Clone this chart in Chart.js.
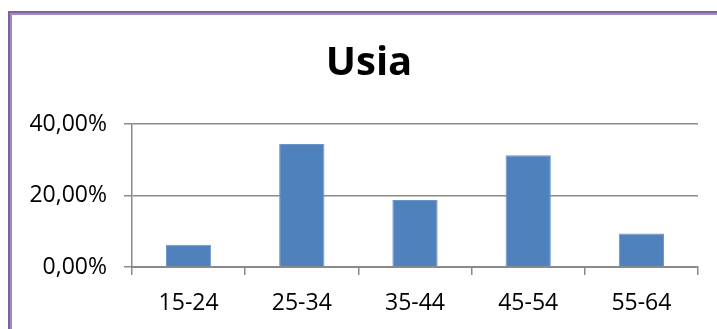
<!DOCTYPE html>
<html>
<head>
<meta charset="utf-8">
<script src="https://cdn.jsdelivr.net/npm/chart.js@4/dist/chart.umd.min.js"></script>
<style>
  html, body { margin: 0; padding: 0; background: #ffffff; overflow: hidden; }
  #frame {
    position: absolute; left: 8px; top: 11px; width: 900px; height: 500px;
    border-left: 2px solid #7D62A0; border-top: 2px solid #7D62A0;
    box-shadow: inset 2px 2px 0 #A18CC0;
  }
  #wrap { position: absolute; left: 0; top: 0; width: 717px; height: 329px; }
</style>
</head>
<body>
<div id="frame"></div>
<div id="wrap"><canvas id="chart" width="717" height="329"></canvas></div>
<script>
// Age groups and their share of respondents (percent)
const categories = ['15-24', '25-34', '35-44', '45-54', '55-64'];
const shares = [6.25, 34.375, 18.75, 31.25, 9.375];
const yTicks = [0, 20, 40];
const chartTitle = 'Usia';

const axisGray = '#8A8A8A';
const labelFont = { family: "'Open Sans', sans-serif", size: 23 };

// Center the title over the band from x=40 to the plot's right edge
const titleBand = {
  id: 'titleBand',
  afterLayout(chart) {
    const tb = chart.titleBlock;
    if (tb) {
      tb.left = 40;
      tb.right = chart.chartArea.right;
      tb.width = tb.right - tb.left;
    }
  }
};

new Chart(document.getElementById('chart'), {
  type: 'bar',
  data: {
    labels: categories,
    datasets: [{
      data: shares,
      backgroundColor: '#4F81BD',
      borderColor: '#6A95C8',
      borderWidth: 1,
      barPercentage: 0.4,
      categoryPercentage: 1.0
    }]
  },
  plugins: [titleBand],
  options: {
    responsive: false,
    animation: false,
    layout: { padding: { left: 14, right: 19, top: 0, bottom: 0 } },
    plugins: {
      legend: { display: false },
      tooltip: { enabled: false },
      title: {
        display: true,
        text: chartTitle,
        color: '#000000',
        font: { family: "'Open Sans', sans-serif", size: 40, weight: 'bold' },
        padding: { top: 40, bottom: 36 }
      }
    },
    scales: {
      x: {
        afterFit(scale) { scale.height = 62; },
        grid: {
          offset: true,
          drawOnChartArea: false,
          drawTicks: true,
          tickLength: 8,
          color: axisGray,
          lineWidth: 1.5
        },
        border: { color: axisGray, width: 2 },
        ticks: { color: '#000000', font: labelFont, padding: 15, maxRotation: 0 }
      },
      y: {
        min: 0,
        max: 40,
        afterFit(scale) { scale.width = 118; },
        afterBuildTicks(scale) { scale.ticks = yTicks.map(v => ({ value: v })); },
        grid: {
          color: axisGray,
          lineWidth: 1.5,
          tickLength: 8,
          drawTicks: true
        },
        border: { color: axisGray, width: 1.5 },
        ticks: {
          color: '#000000',
          font: labelFont,
          padding: 17,
          callback: v => v.toFixed(2).replace('.', ',') + '%'
        }
      }
    }
  }
});
</script>
</body>
</html>
